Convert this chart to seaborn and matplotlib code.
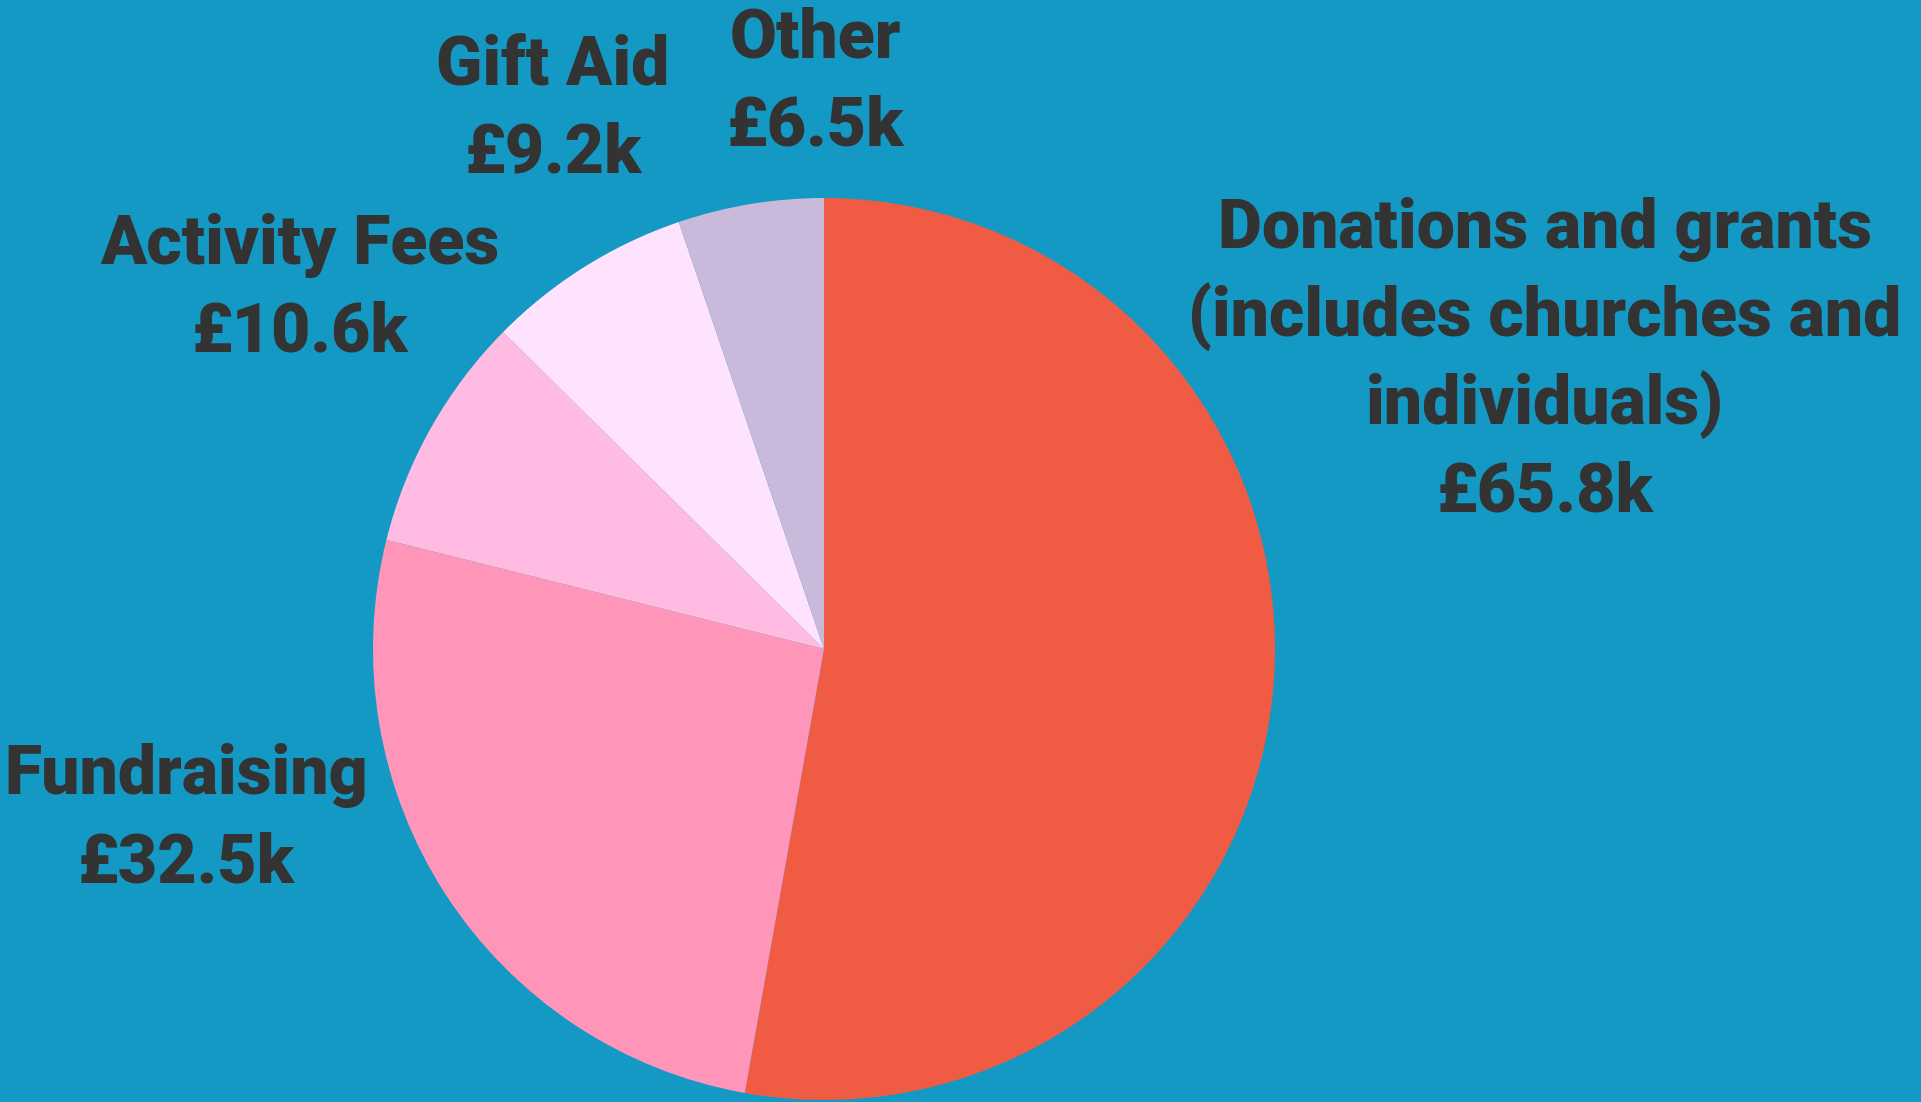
import matplotlib
matplotlib.use('Agg')
import matplotlib.pyplot as plt
import seaborn as sns

# income breakdown (in £k)
labels = ['Donations and grants\n(includes churches and\nindividuals)', 'Fundraising',
          'Activity Fees', 'Gift Aid', 'Other']
values = [65.8, 32.5, 10.6, 9.2, 6.5]
colors = ['#F05B44', '#FF96BA', '#FFBBE1', '#FFE2FD', '#C9BADB']

sns.set_theme(style='white')
plt.rcParams['font.family'] = ['Roboto', 'DejaVu Sans']

bg = '#1399C4'
txt = '#333333'

W, H = 1921, 1102
fig = plt.figure(figsize=(W / 100, H / 100), dpi=100, facecolor=bg)

# pie centre and radius in pixels
cx, cy, r = 824, 649, 451
ax = fig.add_axes([(cx - r) / W, (H - cy - r) / H, 2 * r / W, 2 * r / H])
ax.set_facecolor(bg)
ax.pie(values, colors=sns.color_palette(colors), startangle=90, counterclock=False,
       radius=1, wedgeprops={'linewidth': 0})
ax.set_xlim(-1, 1)
ax.set_ylim(-1, 1)
ax.set_aspect('equal')
ax.axis('off')

# label centres (pixels from top-left) for the first line
label_pos = [(1545, 229), (186, 776), (300, 245), (553, 66), (815, 39)]
step = 88
for lab, val, (x, y) in zip(labels, values, label_pos):
    lines = lab.split('\n') + ['£%.1fk' % val]
    for i, line in enumerate(lines):
        fig.text(x / W, 1 - (y + i * step) / H, line, ha='center', va='center',
                 fontsize=49, fontweight='heavy', color=txt)

fig.savefig('out.png', dpi=100, facecolor=bg)
